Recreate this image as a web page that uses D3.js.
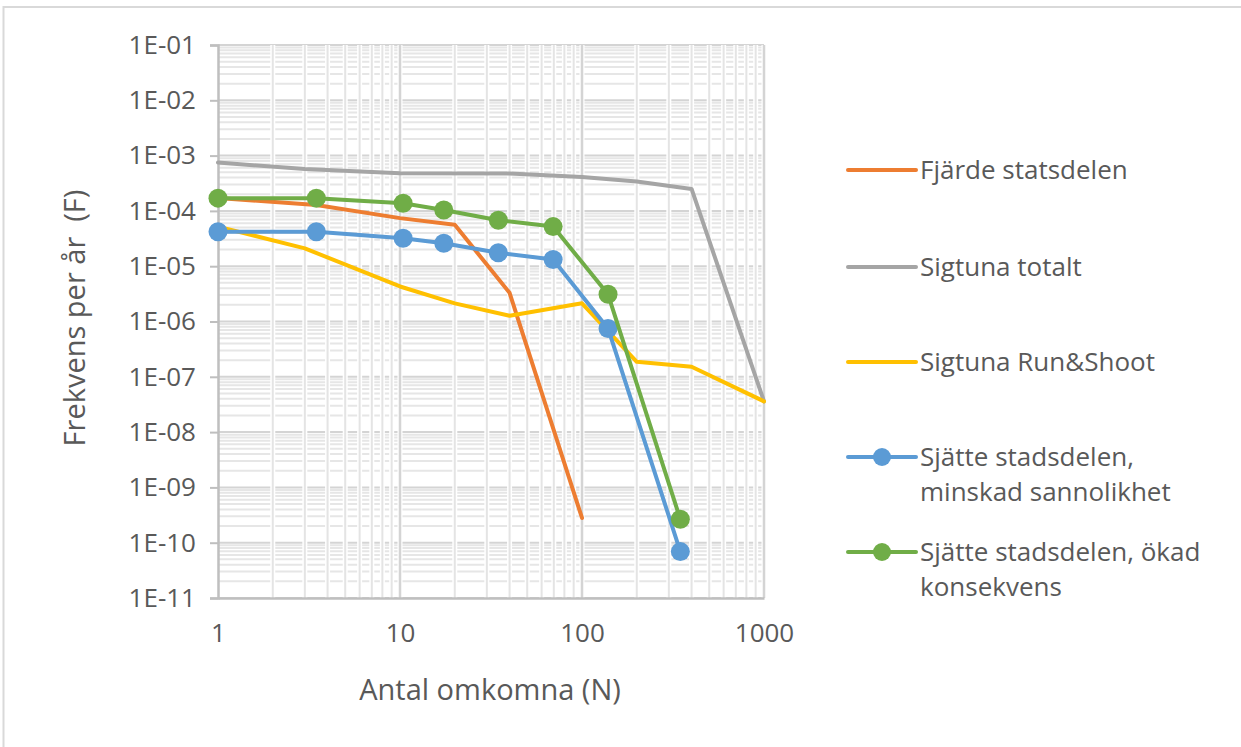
<!DOCTYPE html>
<html>
<head>
<meta charset="utf-8">
<script src="https://cdn.jsdelivr.net/npm/d3@7"></script>
<style>
html,body{margin:0;padding:0;background:#fff;}
svg text{font-family:"Open Sans",sans-serif;fill:#595959;}
</style>
</head>
<body>
<svg id="chart" width="1241" height="747"></svg>
<script>
// ---- data ----
const seriesNames = ["Fjärde statsdelen","Sigtuna totalt","Sigtuna Run&Shoot","Sjätte stadsdelen, minskad sannolikhet","Sjätte stadsdelen, ökad konsekvens"];
const fjardeN = [1, 3.47, 10, 20, 40, 100];
const fjardeF = [1.71e-4, 1.28e-4, 7.4e-5, 5.6e-5, 3.3e-6, 2.8e-10];
const totaltN = [1, 3, 10, 40, 100, 200, 400, 1000];
const totaltF = [7.5e-4, 5.7e-4, 4.8e-4, 4.75e-4, 4.1e-4, 3.4e-4, 2.5e-4, 3.6e-8];
const runN = [1, 3, 10, 20, 40, 100, 200, 400, 1000];
const runF = [5.2e-5, 2.1e-5, 4.3e-6, 2.13e-6, 1.27e-6, 2.13e-6, 1.87e-7, 1.52e-7, 3.6e-8];
const sjatteN = [1, 3.47, 10.4, 17.4, 34.7, 69.4, 139, 347];
const minskadF = [4.2e-5, 4.2e-5, 3.2e-5, 2.6e-5, 1.75e-5, 1.32e-5, 7.5e-7, 6.9e-11];
const okadF = [1.7e-4, 1.7e-4, 1.37e-4, 1.04e-4, 6.8e-5, 5.2e-5, 3.1e-6, 2.65e-10];
const xTicks = [1, 10, 100, 1000];
const yTicks = [1e-1,1e-2,1e-3,1e-4,1e-5,1e-6,1e-7,1e-8,1e-9,1e-10,1e-11];
const yTickLabels = ["1E-01","1E-02","1E-03","1E-04","1E-05","1E-06","1E-07","1E-08","1E-09","1E-10","1E-11"];
const xTitle = "Antal omkomna (N)";
const yTitle = "Frekvens per år  (F)";

const colors = ["#ED7D31","#A5A5A5","#FFC000","#5B9BD5","#70AD47"];
const series = [
  {name:seriesNames[0], n:fjardeN, f:fjardeF, color:colors[0], marker:false, legend:["Fjärde statsdelen"]},
  {name:seriesNames[1], n:totaltN, f:totaltF, color:colors[1], marker:false, legend:["Sigtuna totalt"]},
  {name:seriesNames[2], n:runN, f:runF, color:colors[2], marker:false, legend:["Sigtuna Run&Shoot"]},
  {name:seriesNames[3], n:sjatteN, f:minskadF, color:colors[3], marker:true, legend:["Sjätte stadsdelen,","minskad sannolikhet"]},
  {name:seriesNames[4], n:sjatteN, f:okadF, color:colors[4], marker:true, legend:["Sjätte stadsdelen, ökad","konsekvens"]}
];

const svg = d3.select("#chart");
// outer chart border
svg.append("rect").attr("x",3.5).attr("y",7).attr("width",1300).attr("height",800)
  .attr("fill","#fff").attr("stroke","#d9d9d9").attr("stroke-width",2);

const L=218, R=764, T=45, B=598;
const x = d3.scaleLog().domain([1,1000]).range([L,R]);
const y = d3.scaleLog().domain([1e-11,1e-1]).range([B,T]);

const grid = svg.append("g");
const hMinor=[], vMinor=[];
for(let d=-11; d<-1; d++) for(let k=2;k<=9;k++) hMinor.push(k*Math.pow(10,d));
for(let d=0; d<3; d++) for(let k=2;k<=9;k++) vMinor.push(k*Math.pow(10,d));
grid.selectAll(".hm").data(hMinor).join("line")
  .attr("x1",L).attr("x2",R).attr("y1",d=>y(d)).attr("y2",d=>y(d))
  .attr("stroke","#e6e6e6").attr("stroke-width",2);
grid.selectAll(".hM").data(yTicks).join("line")
  .attr("x1",L).attr("x2",R).attr("y1",d=>y(d)).attr("y2",d=>y(d))
  .attr("stroke","#d4d4d4").attr("stroke-width",2);
grid.selectAll(".vmw").data(vMinor).join("line")
  .attr("x1",d=>x(d)).attr("x2",d=>x(d)).attr("y1",T).attr("y2",B)
  .attr("stroke","#ffffff").attr("stroke-width",5);
grid.selectAll(".vm").data(vMinor).join("line")
  .attr("x1",d=>x(d)).attr("x2",d=>x(d)).attr("y1",T).attr("y2",B)
  .attr("stroke","#e4e4e4").attr("stroke-width",2);
grid.selectAll(".vMw").data(xTicks.slice(1)).join("line")
  .attr("x1",d=>x(d)).attr("x2",d=>x(d)).attr("y1",T).attr("y2",B)
  .attr("stroke","#ffffff").attr("stroke-width",5);
grid.selectAll(".vM").data(xTicks.slice(1)).join("line")
  .attr("x1",d=>x(d)).attr("x2",d=>x(d)).attr("y1",T).attr("y2",B)
  .attr("stroke","#d4d4d4").attr("stroke-width",2.5);

// axes
const yAxis = d3.axisLeft(y).tickValues(yTicks).tickSize(8).tickFormat((d,i)=>yTickLabels[i]).tickPadding(14);
const gy = svg.append("g").attr("transform",`translate(${L},0)`).call(yAxis);
gy.select(".domain").attr("stroke","#bfbfbf").attr("stroke-width",2.5);
gy.selectAll(".tick line").attr("stroke","#bfbfbf").attr("stroke-width",2);
gy.selectAll(".tick text").attr("font-size",26).attr("fill","#595959").attr("font-family","Open Sans");

const xAxis = d3.axisBottom(x).tickValues(xTicks).tickSize(0).tickFormat(d3.format("d")).tickPadding(26);
const gx = svg.append("g").attr("transform",`translate(0,${B})`).call(xAxis);
gx.select(".domain").attr("stroke","#bfbfbf").attr("stroke-width",2.5);
gx.selectAll(".tick text").attr("font-size",26).attr("fill","#595959").attr("font-family","Open Sans");

// titles
svg.append("text").attr("x",490).attr("y",700).attr("text-anchor","middle")
  .attr("font-size",29).text(xTitle);
svg.append("text").attr("transform",`translate(85,318) rotate(-90)`).attr("text-anchor","middle")
  .attr("font-size",29).style("white-space","pre").text(yTitle);

// lines
const line = d3.line().x(d=>x(d[0])).y(d=>y(d[1]));
const plot = svg.append("g");
series.forEach(s=>{
  const pts = s.n.map((n,i)=>[n,s.f[i]]);
  plot.append("path").datum(pts).attr("d",line).attr("fill","none")
    .attr("stroke",s.color).attr("stroke-width",4).attr("stroke-linejoin","round").attr("stroke-linecap","round");
  if(s.marker){
    plot.selectAll(null).data(pts).join("circle")
      .attr("cx",d=>x(d[0])).attr("cy",d=>y(d[1])).attr("r",9.5).attr("fill",s.color);
  }
});

// legend
const legY = [170, 267, 362, 457, 552];
const leg = svg.append("g");
series.forEach((s,i)=>{
  const g = leg.append("g").attr("transform",`translate(0,${legY[i]})`);
  g.append("line").attr("x1",848).attr("x2",916).attr("y1",0).attr("y2",0)
    .attr("stroke",s.color).attr("stroke-width",4).attr("stroke-linecap","round");
  if(s.marker) g.append("circle").attr("cx",882).attr("cy",0).attr("r",9).attr("fill",s.color);
  s.legend.forEach((t,j)=>{
    g.append("text").attr("x",920).attr("y",9+j*35).attr("font-size",26).text(t);
  });
});
</script>
</body>
</html>
